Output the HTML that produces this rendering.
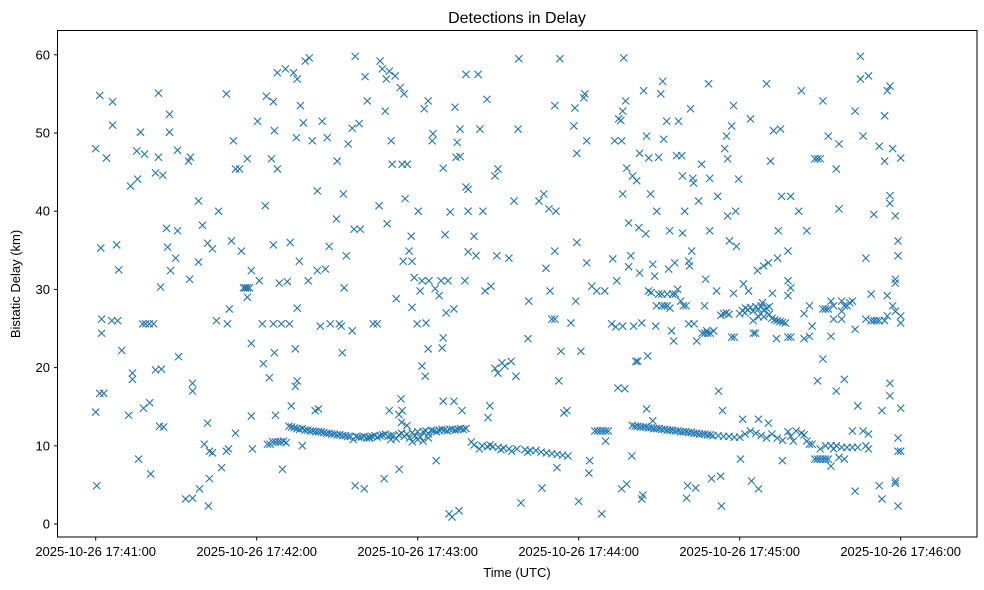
<!DOCTYPE html>
<html><head><meta charset="utf-8"><style>
html,body{margin:0;padding:0;background:#fff;}
svg{display:block;font-family:"Liberation Sans","DejaVu Sans",sans-serif;}
</style></head><body>
<svg id="chart" width="984" height="590" viewBox="0 0 984 590" xmlns="http://www.w3.org/2000/svg">
<rect x="0" y="0" width="984" height="590" fill="#fff"/>
<text x="517" y="23" font-size="16" text-anchor="middle" fill="#000">Detections in Delay</text>
<g id="marks"></g>
<g id="axes"></g>
<rect x="57.5" y="30.5" width="919.5" height="506.5" fill="none" stroke="#000" stroke-width="1"/>
<text x="517" y="577" font-size="13" text-anchor="middle" fill="#000">Time (UTC)</text>
<text x="20" y="284" font-size="13" text-anchor="middle" fill="#000" transform="rotate(-90 20 284)">Bistatic Delay (km)</text>
</svg>
<script>
// seconds after 17:41:00, delay km
const xTickSeconds = [0,60,120,180,240,300];
const xTickLabels = ["2025-10-26 17:41:00","2025-10-26 17:42:00","2025-10-26 17:43:00","2025-10-26 17:44:00","2025-10-26 17:45:00","2025-10-26 17:46:00"];
const yTicks = [0,10,20,30,40,50,60];
const scatterA = [[0,48.0],[1.5,54.8],[0,14.3],[0.4,4.9],[1.9,35.3],[1.5,16.7],[3,16.7],[2.2,26.2],[2.2,24.4],[4,46.8],[6.3,54.0],[6.3,51.0],[6,26],[8.2,26],[7.8,35.7],[8.6,32.5],[9.7,22.2],[12.3,13.9],[13,43.2],[13.7,19.3],[13.7,18.5],[15.6,44.1],[15.3,47.7],[16,8.3],[16.7,50.1],[17.5,25.6],[18.6,25.6],[20,25.6],[21.6,25.6],[17.8,14.8],[18.2,47.3],[20.1,15.5],[20.5,6.4],[22.3,19.7],[23.4,55.1],[23.4,46.9],[22.3,44.9],[23.8,12.5],[24.2,30.3],[25,44.6],[25.3,12.4],[24.5,19.8],[26.4,37.8],[26.8,35.4],[27.5,52.4],[27.5,50.1],[27.9,32.4],[29.8,34],[30.5,47.8],[30.5,37.5],[30.9,21.4],
[33.5,3.2],[36.1,3.3],[34.6,46.4],[35.3,46.9],[35,31.3],[36.1,17],[36.1,18],[38.3,41.3],[38.3,33.5],[38.7,4.5],[39.8,38.2],[40.5,10.2],[41.7,35.9],[42.4,9.3],[42.4,5.8],[41.7,12.9],[43.5,35.2],[42,2.3],[43.5,9.1],[45,26],[45.8,40],[46.9,7.2],[48.7,55],[48.7,9.3],[49.5,9.6],[49.8,27.5],[49.1,25.6],[50.6,36.2],[51.3,49],[52.1,45.4],[53.6,45.4],[52.1,11.6],[54.3,34.9],[55.1,30.2],[55.8,30.2],[56.5,30.2],[57.3,30.2],[56.5,29],[56.5,46.7],[58,32.4],[58,23.1],[58,13.8],[58.4,9.6],[60.3,51.5],[61,31.1],[62.1,25.6],[62.5,20.5],[63.6,54.7],[63.2,40.7],[64.7,18.7],[65.5,46.7],[66.2,54],[66.2,35.7],[66.2,25.6],[66.6,50.3],[66.6,21.9],[67,13.9],[67.7,57.7],[67.7,45.4],[68.4,30.8],[69.2,25.6],[69.6,7],[70.7,58.2],[71.4,31],[72.2,25.6],[72.5,36],[72.9,15.1],[73.7,57.7],[74.4,17.6],[74.4,22.4],[75.1,18.3],[74.8,49.4],[75.1,27.6],[75.1,56.9],[75.9,33.6],[76.3,53.5],[77.4,51.3],[78.1,59.2],[79.2,31.1],[79.6,59.6],[80.7,49],[81.8,14.5],[82.6,32.4],[82.6,42.6],[83,14.7],[83.7,25.3],[84.4,51.5],[85.6,32.6],[86.3,49.4]];
const scatterB = [[87,35.5],[87.4,25.6],[89.7,39],[90,46.4],[90.8,25.6],[91.5,25.3],[91.9,21.9],[92.3,42.2],[92.6,30.2],[93.4,34.3],[94.1,48.6],[95.6,50.6],[95.6,24.7],[96.3,37.7],[96.7,4.9],[96.7,59.8],[98.2,51.2],[98.6,37.7],[100.1,4.5],[100.4,57.2],[101.2,54.1],[103.4,25.6],[104.9,25.6],[105.6,40.7],[106,59.2],[106.8,58.2],[107.5,5.8],[107.9,52.8],[108.3,56.9],[108.6,38.4],[109.4,57.9],[109.4,14.5],[110.1,49],[110.5,46],[111.6,57.3],[112,28.8],[113.5,55.8],[113.1,7],[113.8,16],[114.2,14.5],[114.2,46],[114.6,33.6],[114.9,55],[115.3,41.6],[116.1,46],[116.8,34.9],[117.6,36.8],[117.9,33.6],[117.9,27.7],[118.7,31.5],[119.8,25.6],[120.2,40],[120.9,29.8],[121.6,31.1],[121.6,20.2],[122.4,53.1],[122.8,18.9],[123.1,25.7],[123.9,54.1],[123.9,22.4],[124.2,31.1],[125.4,49],[125.7,49.9],[126.5,30.1],[126.9,8.1],[128,29.2],[128.7,31.1],[129.1,22.5],[129.5,45.5],[129.5,23.8],[129.5,15.7],[130.6,27],[130.2,37],[131.3,31.1],[131.7,1.3],[132.1,39.9],[132.8,0.9],[133.5,15.7],[133.5,27.5],[133.9,53.3],[134.3,46.9],[134.7,48.8],[135.4,1.7],[135.8,47],[135.8,50.5],[136.5,14.5],[137.6,31.1],[138,57.5],[138,43.1],[138.8,42.8],[138.8,40],[138.8,34.8],[141,36.8],[141.7,34.3],[142.5,57.5],[143.2,50.5],[144.3,40],[145.1,29.8],[145.8,54.3],[146.2,13.6],[146.9,15.1],[147.3,30.4],[148.8,44.5],[148.8,19.9],[149.5,34.3],[149.9,19.3],[149.9,45.4],
[151.4,20.6],[152.5,20.2],[154,34],[154.8,20.8],[155.9,41.3],[156.6,18.9],[157.4,50.5],[157.7,59.5],[158.5,2.7],[161.1,23.7],[161.4,28.5],[165.2,41.3],[166.3,4.6],[167,42.2],[167.8,32.7],[168.9,40.3],[169.3,29.8],[170,26.2],[171.1,26.2],[171.1,34.9],[171.1,53.5],[171.5,40],[171.9,7.2],[173,59.5],[172.6,18.3],[173.4,22.1],[174.5,14.2],[175.6,14.5],[177.1,25.7],[178.2,50.9],[178.6,53.2],[178.9,28.5],[179.3,36],[179.3,47.4],[180,2.9],[180.8,22.1],[181.9,54.5],[182.3,55],[183,49],[183,33.4],[183.8,6.5],[184.1,8.1],[184.9,30.4],[186.7,29.8],[188.6,1.3],[189.7,29.8],[192.3,25.6],[192.7,33.9],[193.4,49],[193.8,25.2],[194.2,31.1],[194.6,17.4],[194.9,51.8],[195.7,51.6],[196,4.5],[196,49],[196.4,52.8],[196.4,25.3],[196.4,42.2],[196.8,59.6],[197.2,17.3],[197.5,54.1],[197.9,45.5],[197.9,5.1],[198.6,38.5],[198.6,32.9],[199.4,34.3],[199.8,8.7],[200.1,44.5],[200.5,25.3],[201.3,20.8],[201.6,43.9],[202,20.8],[202.4,37.9],[202.7,32.1],[202.7,47.4],[203.5,25.7],[203.5,3.2],[203.9,3.7],[204.2,55.4],[205,37.1],[205.3,49.6],[205.3,14.7],[205.7,21.5],[206.1,46.8],[206.8,42.2],[207.6,33.2],[207.6,13.2],[208.3,31.7],[208.7,25.3],[209.1,40],[209.8,46.9],[209.8,29.4]];
const scatterC = [[210.6,55],[211.3,56.6],[211.7,49.2],[212.8,51.5],[213.5,32.6],[213.9,37.5],[214.6,24.7],[215.4,23.4],[215.8,33.4],[216.5,47.1],[216.9,30],[217.2,51.5],[218.4,47.1],[218.7,44.5],[218.7,37.2],[219.5,40],[220.2,3.3],[220.6,4.9],[221,33.6],[221.3,33],[221.7,53.1],[222.1,34.9],[222.5,44.2],[222.8,43.6],[223.6,4.6],[224,23.4],[224.7,41.3],[225.8,46],[226.9,27.9],[227.3,31.3],[227.7,24.7],[228.4,56.3],[228.8,37.5],[228.8,44.2],[229.5,5.8],[230.3,24.7],[231.4,29.8],[231.8,41.9],[232.1,17],[232.9,6.1],[233.2,2.3],[233.6,14.5],[234.4,48],[235.1,49.6],[235.5,46.7],[235.5,39.4],[236.2,36.2],[237,50.9],[237.7,53.5],[237.7,29.5],[238.5,40],[238.8,35.5],[239.6,44.1],[240.3,8.3],[241.1,13.4],[241.4,30.7],[242.2,27.6],[243.3,29.8],[244,51.8],[244.4,5.5],[245.1,24.4],[245.9,24.4],[246.6,32.4],[247,4.5],[247,13.4],[247.8,26.9],[248.5,28.3],[248.9,33],[250,56.3],[250.7,33.4],[250.7,12.9],[251.5,46.4],[252.2,29.5],[252.6,50.3],[253.7,23.7],[254.1,34],[254.4,37.5],[255.2,50.5],[255.6,41.9],[255.9,8.1],
[258,29.2],[258,31.1],[259,30.2],[258,34.9],[259,41.9],[258,23.9],[259,23.9],[262,40],[263,55.4],[264,23.7],[264,26.9],[265,37.5],[266,24],[266,27.9],[267,25.3],[268,46.7],[269,18.3],[269,46.7],[270,46.7],[271,27.5],[271,21.1],[271,54.1],[272,27.5],[273,27.5],[273,49.6],[274,28.5],[274,7.4],[274,24],[275,27.9],[275,26.2],[276,17],[276,45.4],[277,48.6],[277,40.3],[278,26.2],[278,28.5],[278,27.2],[279,18.5],[279,27.9],[280,27.9],[281,28.3],[282,28.5],[283,24.9],[283,52.8],[283,4.2],[284,15.1],[285,59.8],[285,56.9],[286,49.6],[287,26.2],[287,34],[288,57.3],[289,29.4],[289,26],[290,39.6],[290,26],[291,26],[292,26],[292,48.3],[292,4.9],[293,3.2],[293,14.5],[294,26],[294,52.2],[294,46.4],[295,29.2],[295,26.6],[295,55.4],[296,56],[296,42],[296,41],[296,18],[296,16.4],[297,48],[298,31.3],[299,34.3],[299,36.2],[300,25.7],[300,26.6],[300,14.8],[299,2.3],[298,5.5],[298,5.2],[298,30.8],[298,39.4],[300,46.8],[297,27.9],[298,27.2]];
const clusterMid = [[206,29.8],[207,29.6],[209,27.9],[211,27.9],[212,27.9],[213,27.9],[214,27.6],[211,29.4],[213,29.4],[215,29.4],[216,29.4],[218,28.5],[219,27.9],[220,27.9],[221,25.6],[223,25.6],[226,24.4],[227,24.4],[228,24.4],[229,24.4],[233,26.7],[234,26.9],[235,27],[236,26.8],[237,23.9],[238,23.9],[240,26.9],[241,27.3],[242,27],[243,27.4],[244,27.7],[245,27.2],[246,27.8],[247,27.5],[248,27.9],[249,27.3],[250,27.6],[251,27.8],[252,26.3],[253,26.1],[254,26.0],[255,25.9],[256,25.8],[257,25.7],[245,26],[247,26.5],[249,26.5],[251,26.8]];
const trackOne = [[64,10.2],[65,10.2],[66,10.5],[67,10.5],[68,10.5],[69,10.5],[70,10.6],[71,10.4],[72,12.5],[73,12.4],[74,12.3],[75,12.2],[76,12.1],[77,12.2],[78,12.0],[79,12.0],[80,11.9],[81,11.9],[82,11.8],[83,11.8],[84,11.8],[85,11.7],[86,11.6],[87,11.6],[88,11.5],[89,11.5],[90,11.4],[91,11.4],[92,11.3],[93,11.3],[94,11.2],[95,11.2],[96,10.8],[97,11.2],[98,11.1],[99,11.1],[100,11.2],[101,11.0],[102,11.1],[103,11.2],[104,11.3],[105,11.1],[106,11.3],[107,11.4],[108,11.5],[109,11.2],[110,11.3],[111,11.3],[112,10.9],[113,11.4],[114,11.6],[115,11.2],[116,11.5],[117,11.0],[118,11.7],[119,11.3],[120,11.8],[121,11.1],[122,11.8],[123,11.9],[124,11.5],[125,12.0],[126,11.9],[127,11.8],[128,12.0],[129,12.1],[130,12.0],[131,11.9],[132,12.1],[133,12.1],[134,12.0],[135,12.1],[136,12.2],[137,12.1],[138,12.2],[114,13.0],[113,14.0],[116,12.6],[118,10.5],[120,10.8],[122,10.6],[124,11.0],[110,10.8],[77,10],[102,11]];
const trackOneB = [[140,10.5],[141,10.1],[144,10.0],[146,9.9],[148,9.9],[150,9.8],[152,9.7],[154,9.6],[157,9.6],[160,9.5],[162,9.4],[164,9.4],[166,9.2],[168,9.1],[170,9.0],[172,8.9],[174,8.8],[176,8.7],[143,9.6],[147,10.1],[151,9.5],[155,9.3],[161,9.2],[186,11.9],[187,11.9],[188,11.9],[189,11.9],[190,10.6],[190,11.9],[191,11.9]];
const trackTwo = [[200,12.6],[201,12.5],[202,12.5],[203,12.4],[204,12.4],[205,12.4],[206,12.3],[207,12.3],[208,12.2],[209,12.2],[210,12.2],[211,12.1],[212,12.1],[213,12.0],[214,12.0],[215,12.0],[216,11.9],[217,11.9],[218,11.8],[219,11.8],[220,11.8],[221,11.7],[222,11.7],[223,11.6],[224,11.6],[225,11.5],[226,11.5],[227,11.5],[228,11.4],[229,11.4],[230,11.3],[232,11.3],[234,11.2],[236,11.2],[238,11.1],[240,11.1],[242,11.5],[244,11.9],[246,11.6],[248,11.3],[250,11.0],[252,11.5],[254,11.0],[256,10.7],[258,11.8],[259,11.2],[260,10.6],[261,11.9],[263,11.6],[264,11.4],[265,10.6],[266,10.2],[267,10.2],[268,8.3],[269,8.3],[270,8.3],[271,8.3],[272,8.3],[273,8.3],[270,9.6],[272,10],[274,10],[276,10],[278,9.8],[280,9.8],[282,9.8],[284,9.8],[275,9.6],[277,8.5],[279,8.3],[282,11.9],[286,11.9],[287,10],[288,9.6],[288,11.5],[299,11],[299,9.3],[300,9.3]];

const X0=95.7, PX_PER_SEC=161/60, Y0=524, PX_PER_KM=7.82;
function xScale(t){return X0+t*PX_PER_SEC;}
function yScale(d){return Y0-d*PX_PER_KM;}
const NS="http://www.w3.org/2000/svg";
const marks=document.getElementById('marks');
const axes=document.getElementById('axes');
function drawSet(arr,name){
  arr.forEach(function(p){
    const cx=xScale(p[0]), cy=yScale(p[1]), r=3.6;
    const path=document.createElementNS(NS,'path');
    path.setAttribute('d','M'+(cx-r)+' '+(cy-r)+'L'+(cx+r)+' '+(cy+r)+'M'+(cx-r)+' '+(cy+r)+'L'+(cx+r)+' '+(cy-r));
    path.setAttribute('stroke','#1f77b4');
    path.setAttribute('stroke-width','1.1');
    path.setAttribute('fill','none');
    
    
    marks.appendChild(path);
  });
}
drawSet(scatterA,'a');drawSet(scatterB,'b');drawSet(scatterC,'c');
drawSet(clusterMid,'m');drawSet(trackOne,'t1');drawSet(trackOneB,'t1b');drawSet(trackTwo,'t2');

xTickSeconds.forEach(function(s,i){
  const x=xScale(s);
  const tk=document.createElementNS(NS,'line');
  tk.setAttribute('x1',x);tk.setAttribute('x2',x);tk.setAttribute('y1',537);tk.setAttribute('y2',540.5);
  tk.setAttribute('stroke','#000');
  
  
  axes.appendChild(tk);
  const tx=document.createElementNS(NS,'text');
  tx.setAttribute('x',x);tx.setAttribute('y',556);tx.setAttribute('font-size','13');tx.setAttribute('text-anchor','middle');
  tx.textContent=xTickLabels[i];
  
  
  axes.appendChild(tx);
});
yTicks.forEach(function(v){
  const y=yScale(v);
  const tk=document.createElementNS(NS,'line');
  tk.setAttribute('x1',54);tk.setAttribute('x2',57.5);tk.setAttribute('y1',y);tk.setAttribute('y2',y);
  tk.setAttribute('stroke','#000');
  
  
  axes.appendChild(tk);
  const tx=document.createElementNS(NS,'text');
  tx.setAttribute('x',50);tx.setAttribute('y',y+4.5);tx.setAttribute('font-size','13');tx.setAttribute('text-anchor','end');
  tx.textContent=String(v);
  
  
  axes.appendChild(tx);
});
</script>
</body></html>
